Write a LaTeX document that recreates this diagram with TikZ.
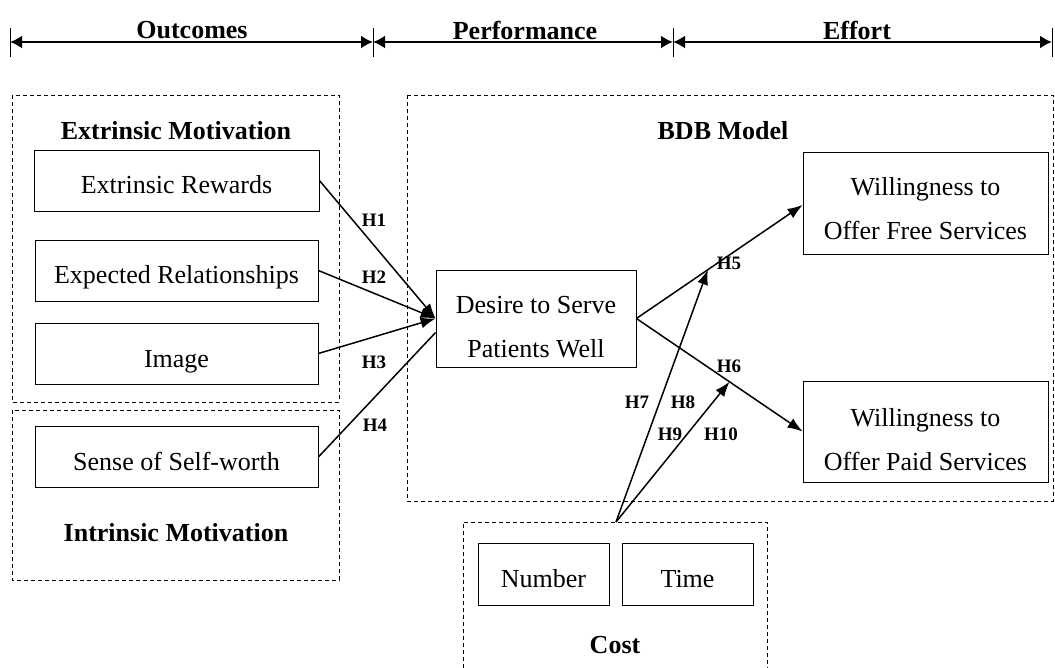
\documentclass[tikz,border=0pt]{standalone}
\usepackage{fontspec}
\setmainfont{Liberation Serif}
\usetikzlibrary{arrows.meta}
\tikzset{
  factor/.style={draw, line width=0.8pt, inner sep=0pt, align=center,
    font=\fontsize{26}{44}\selectfont, text height=27pt, text depth=0pt},
  twoline/.style={text height=#1, text depth=0pt},
  group/.style={draw, dashed, line width=0.8pt, dash pattern=on 4pt off 3pt},
  grouptitle/.style={font=\fontsize{26}{30}\selectfont\bfseries},
  hyp/.style={line width=1.5pt, -{Latex[length=15pt,width=11pt]}},
  hlabel/.style={font=\fontsize{19}{22}\selectfont\bfseries},
  span/.style={line width=2.2pt, {Latex[length=12pt,width=13pt]}-{Latex[length=12pt,width=13pt]}},
}
\begin{document}
\begin{tikzpicture}[x=1pt,y=-1pt]
  \useasboundingbox (0,0) rectangle (1055,668);
  % stages
  \foreach \x/\n in {10/t1,373/t2,673/t3,1052/t4} {
    \draw[line width=1pt] (\x,28) -- (\x,57);
    \coordinate (\n) at (\x,42);
  }
  \draw[span] (t1) -- (t2);
  \draw[span] (t2) -- (t3);
  \draw[span] (t3) -- (t4);
  \node[grouptitle] (outc) at (192,30) {Outcomes};
  \node[grouptitle] (perf) at (525,30) {Performance};
  \node[grouptitle] (eff) at (857,30) {Effort};
  % groups
  \draw[group] (12,95) rectangle (339,402);
  \draw[group] (12,410) rectangle (339,580);
  \draw[group] (407,95) rectangle (1053,501);
  \draw[group] (463,668) -- (463,522) -- (767,522) -- (767,668);
  \node[grouptitle] (extm) at (176,131) {Extrinsic Motivation};
  \node[grouptitle] (intm) at (176,533) {Intrinsic Motivation};
  \node[grouptitle] (bdb) at (723,131) {BDB Model};
  \node[grouptitle] (cost) at (615,645) {Cost};
  % factors
  \node[factor, minimum width=285pt, minimum height=61pt] (rew) at (176.5,180.5) {Extrinsic Rewards};
  \node[factor, minimum width=283pt, minimum height=61pt] (rel) at (176.5,270.5) {Expected Relationships};
  \node[factor, minimum width=283pt, minimum height=61pt] (img) at (176.5,353.5) {Image};
  \node[factor, minimum width=283pt, minimum height=61pt] (self) at (176.5,457) {Sense of Self-worth};
  \node[factor, twoline=79pt, minimum width=200pt, minimum height=97pt] (des) at (536,318.5) {Desire to Serve\\Patients Well};
  \node[factor, twoline=74pt, minimum width=245pt, minimum height=102pt] (free) at (925.5,203) {Willingness to\\Offer Free Services};
  \node[factor, twoline=77pt, minimum width=245pt, minimum height=101pt] (paid) at (925.5,431.5) {Willingness to\\Offer Paid Services};
  \node[factor, minimum width=131pt, minimum height=62pt] (num) at (543.5,574) {Number};
  \node[factor, minimum width=131pt, minimum height=62pt] (time) at (687.5,574) {Time};
  \coordinate (ctop) at (616,522);
  % hypotheses
  \draw[hyp] (rew.east) -- (des.west);
  \draw[hyp] (rel.east) -- (des.west);
  \draw[hyp] (img.east) -- (des.west);
  \draw[line width=1.5pt] (self.east) -- ([yshift=-14pt]des.west);
  \draw[hyp] (des.east) -- ([yshift=-2pt]free.west) coordinate[pos=0.43] (onfive);
  \draw[hyp] (des.east) -- (paid.west) coordinate[pos=0.56] (onsix);
  \draw[hyp] (ctop) -- (onfive);
  \draw[hyp] (ctop) -- (onsix);
  \node[hlabel] (l1) at (374,220) {H1};
  \node[hlabel] (l2) at (374,277) {H2};
  \node[hlabel] (l3) at (374,362) {H3};
  \node[hlabel] (l4) at (375,425) {H4};
  \node[hlabel] (l5) at (729,263) {H5};
  \node[hlabel] (l6) at (729,366) {H6};
  \node[hlabel] (l7) at (637,402) {H7};
  \node[hlabel] (l8) at (683,402) {H8};
  \node[hlabel] (l9) at (670,434) {H9};
  \node[hlabel] (l10) at (721,434) {H10};
\end{tikzpicture}
\end{document}
